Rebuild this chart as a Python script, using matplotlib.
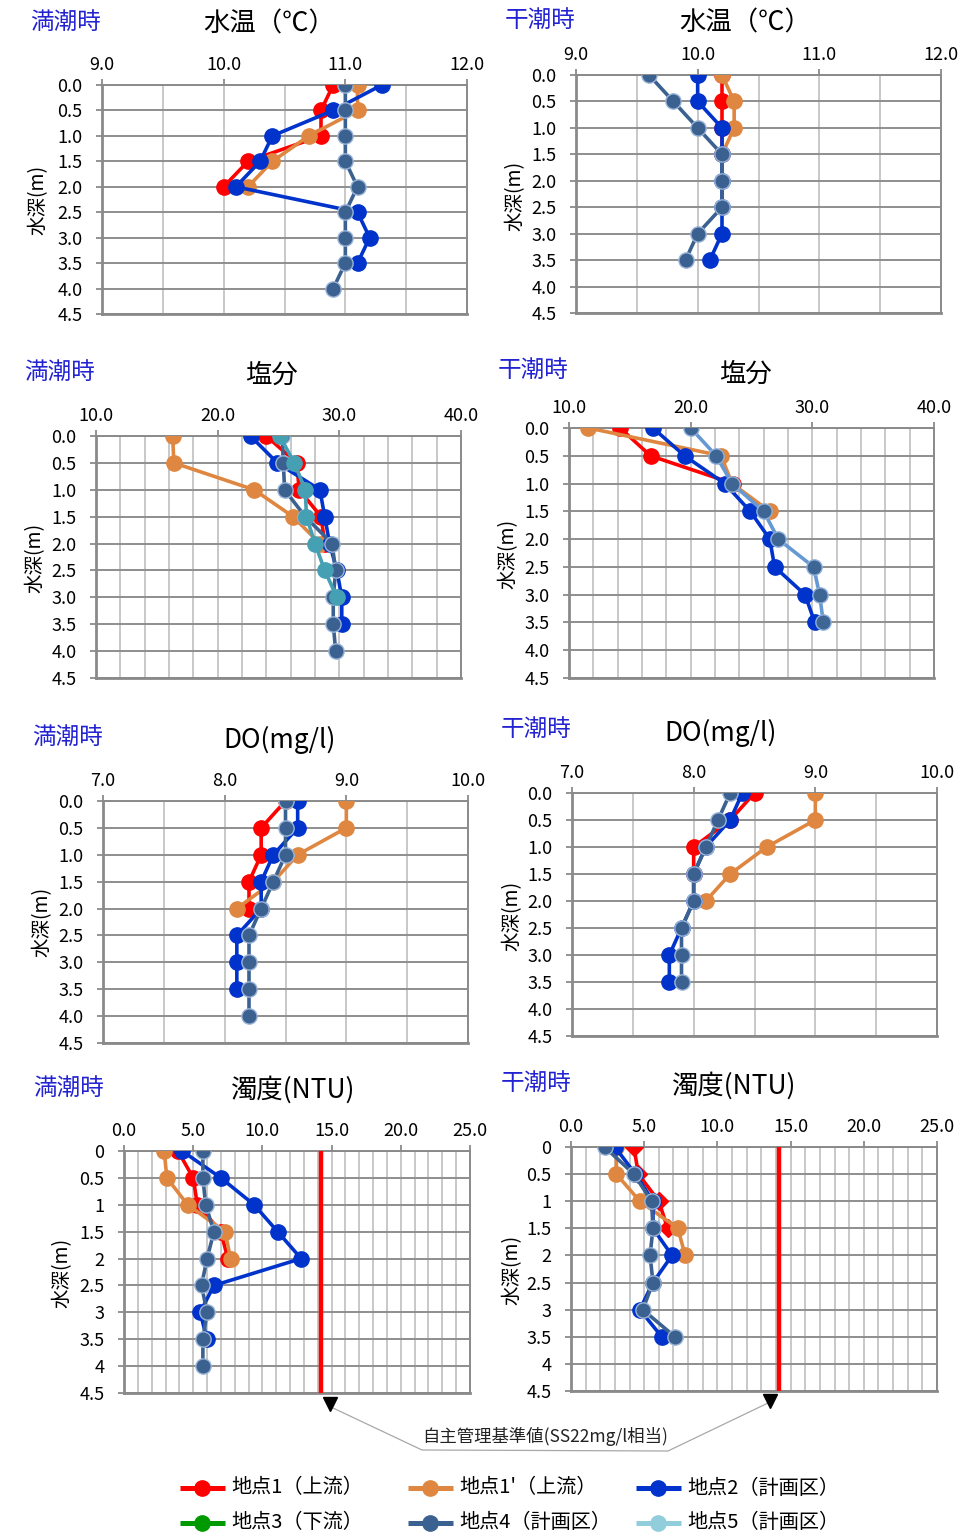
import matplotlib
matplotlib.use("Agg")
import matplotlib.pyplot as plt
from matplotlib.ticker import MultipleLocator, FormatStrFormatter, FuncFormatter

plt.rcParams['font.family'] = ['Noto Sans CJK JP', 'DejaVu Sans']

W, H = 976, 1534

# ---- data ----
depth = [0.0, 0.5, 1.0, 1.5, 2.0, 2.5, 3.0, 3.5, 4.0]

# 満潮時 水温
hw_t1 = [10.9, 10.8, 10.8, 10.2, 10.0]
hw_t1p = [11.1, 11.1, 10.7, 10.4, 10.2]
hw_t2 = [11.3, 10.9, 10.4, 10.3, 10.1, 11.1, 11.2, 11.1]
hw_t4 = [11.0, 11.0, 11.0, 11.0, 11.1, 11.0, 11.0, 11.0, 10.9]
# 干潮時 水温
lw_t1 = [10.2, 10.2, 10.2, 10.2]
lw_t1p = [10.2, 10.3, 10.3, 10.2]
lw_t2 = [10.0, 10.0, 10.2, 10.2, 10.2, 10.2, 10.2, 10.1]
lw_t4 = [9.6, 9.8, 10.0, 10.2, 10.2, 10.2, 10.0, 9.9]

# 満潮時 塩分
hw_s1 = [24.0, 26.5, 26.7, 28.5, 28.8]
hw_s1p = [16.3, 16.4, 23.0, 26.2, 28.4]
hw_s2 = [22.7, 24.9, 28.4, 28.8, 29.2, 29.8, 30.2, 30.2]
hw_s4 = [25.3, 25.4, 25.5, 27.2, 29.4, 29.7, 29.5, 29.5, 29.7]
hw_s5 = [25.1, 26.3, 27.2, 27.3, 28.0, 28.8, 29.8]
# 干潮時 塩分
lw_s1 = [14.2, 16.7, 23.5]
lw_s1p = [11.6, 22.5, 23.4, 26.5]
lw_s2 = [16.9, 19.5, 22.8, 24.9, 26.5, 26.9, 29.4, 30.2]
lw_s4 = [20.0, 22.1, 23.4, 26.0, 27.2, 30.1, 30.6, 30.9]

# 満潮時 DO
hw_d1 = [8.5, 8.3, 8.3, 8.2, 8.2]
hw_d1p = [9.0, 9.0, 8.6, 8.4, 8.1]
hw_d2 = [8.6, 8.6, 8.4, 8.3, 8.3, 8.1, 8.1, 8.1]
hw_d4 = [8.5, 8.5, 8.5, 8.4, 8.3, 8.2, 8.2, 8.2, 8.2]
# 干潮時 DO
lw_d1 = [8.5, 8.3, 8.0, 8.0]
lw_d1p = [9.0, 9.0, 8.6, 8.3, 8.1]
lw_d2 = [8.4, 8.3, 8.1, 8.0, 8.0, 7.9, 7.8, 7.8]
lw_d4 = [8.3, 8.2, 8.1, 8.0, 8.0, 7.9, 7.9, 7.9]

# 満潮時 濁度
hw_n1 = [3.9, 5.0, 5.3, 7.0, 7.5]
hw_n1p = [2.9, 3.1, 4.6, 7.3, 7.7]
hw_n2 = [4.2, 7.0, 9.4, 11.1, 12.8, 6.5, 5.5, 6.0]
hw_n4 = [5.7, 5.7, 5.9, 6.5, 6.0, 5.6, 6.0, 5.7, 5.7]
# 干潮時 濁度
lw_n1 = [4.3, 4.6, 6.0, 6.6]
lw_n1p = [3.1, 3.1, 4.7, 7.3, 7.8]
lw_n2 = [3.0, 4.4, 5.6, 5.6, 6.9, 5.6, 4.7, 6.2]
lw_n4 = [2.3, 4.3, 5.5, 5.6, 5.4, 5.6, 4.9, 7.1]

ntu_limit = 14.2   # 自主管理基準値 (SS22mg/l相当)

legend_labels = ['地点1（上流）', "地点1'（上流）", '地点2（計画区）',
                 '地点3（下流）', '地点4（計画区）', '地点5（計画区）']

# ---- styles ----
RED = '#FF0000'
ORANGE = '#DF8740'
BLUE = '#0033CC'
GREEN = '#009A00'
SLATE = '#3B6190'
LIGHT = '#92CDDC'
TIDE_BLUE = '#2323D2'

st = {
    'p1': dict(color=RED, mfc=RED, mec=RED, marker='o'),
    'p1d': dict(color=RED, mfc=RED, mec=RED, marker='D'),
    'p1p': dict(color=ORANGE, mfc=ORANGE, mec=ORANGE, marker='o'),
    'p2': dict(color=BLUE, mfc=BLUE, mec=BLUE, marker='o'),
    'p4': dict(color=SLATE, mfc=SLATE, mec='#9AB4D6', marker='o'),
    'p5t': dict(color='#46A0B4', mfc='#46A0B4', mec='#46A0B4', marker='o'),
    'p4l': dict(color='#6699D4', mfc='#3E6694', mec='#8FB0DA', marker='o'),
}

panels = [
    dict(box=(102, 85, 467, 314), tide='満潮時', tide_xy=(30, 22), title='水温（℃）', title_xy=(269, 24),
         ylab_xy=(38, 200), xlim=(9, 12), major=1, minor=0.5, yfmt='%.1f',
         series=[(hw_t1, 'p1'), (hw_t1p, 'p1p'), (hw_t2, 'p2'), (hw_t4, 'p4')]),
    dict(box=(576, 75, 941, 313), tide='干潮時', tide_xy=(505, 20), title='水温（℃）', title_xy=(745, 23),
         ylab_xy=(515, 196), xlim=(9, 12), major=1, minor=0.5, yfmt='%.1f',
         series=[(lw_t1, 'p1'), (lw_t1p, 'p1p'), (lw_t2, 'p2'), (lw_t4, 'p4')]),
    dict(box=(96, 436, 461, 678), tide='満潮時', tide_xy=(24, 372), title='塩分', title_xy=(271, 375),
         ylab_xy=(35, 558), xlim=(10, 40), major=10, minor=2, yfmt='%.1f',
         series=[(hw_s1, 'p1'), (hw_s1p, 'p1p'), (hw_s2, 'p2'), (hw_s4, 'p4'), (hw_s5, 'p5t')]),
    dict(box=(569, 428, 934, 678), tide='干潮時', tide_xy=(498, 370), title='塩分', title_xy=(745, 374),
         ylab_xy=(508, 554), xlim=(10, 40), major=10, minor=2, yfmt='%.1f',
         series=[(lw_s1, 'p1'), (lw_s1p, 'p1p'), (lw_s2, 'p2'), (lw_s4, 'p4l')]),
    dict(box=(103, 801, 468, 1043), tide='満潮時', tide_xy=(32, 737), title='DO(mg/l)', title_xy=(280, 740),
         ylab_xy=(42, 922), xlim=(7, 10), major=1, minor=0.5, yfmt='%.1f',
         series=[(hw_d1, 'p1'), (hw_d1p, 'p1p'), (hw_d2, 'p2'), (hw_d4, 'p4')]),
    dict(box=(572, 793, 937, 1036), tide='干潮時', tide_xy=(501, 729), title='DO(mg/l)', title_xy=(721, 733),
         ylab_xy=(512, 916), xlim=(7, 10), major=1, minor=0.5, yfmt='%.1f',
         series=[(lw_d1, 'p1'), (lw_d1p, 'p1p'), (lw_d2, 'p2'), (lw_d4, 'p4')]),
    dict(box=(124, 1151, 470, 1393), tide='満潮時', tide_xy=(33, 1088), title='濁度(NTU)', title_xy=(293, 1090),
         ylab_xy=(62, 1273), xlim=(0, 25), major=5, minor=1, yfmt='g', limit=ntu_limit,
         series=[(hw_n1, 'p1'), (hw_n1p, 'p1p'), (hw_n2, 'p2'), (hw_n4, 'p4')]),
    dict(box=(571, 1147, 937, 1391), tide='干潮時', tide_xy=(501, 1083), title='濁度(NTU)', title_xy=(734, 1086),
         ylab_xy=(512, 1270), xlim=(0, 25), major=5, minor=1, yfmt='g', limit=ntu_limit,
         series=[(lw_n1, 'p1d'), (lw_n1p, 'p1p'), (lw_n2, 'p2'), (lw_n4, 'p4')]),
]

fig = plt.figure(figsize=(W / 100, H / 100), dpi=100)


def fx(x):
    return x / W


def fy(y):
    return 1 - y / H


for p in panels:
    l, t, r, b = p['box']
    ax = fig.add_axes([fx(l), fy(b), (r - l) / W, (b - t) / H])
    ax.set_xlim(*p['xlim'])
    ax.set_ylim(4.5, 0)
    ax.xaxis.tick_top()
    ax.xaxis.set_major_locator(MultipleLocator(p['major']))
    ax.xaxis.set_minor_locator(MultipleLocator(p['minor']))
    ax.xaxis.set_major_formatter(FormatStrFormatter('%.1f'))
    ax.yaxis.set_major_locator(MultipleLocator(0.5))
    if p['yfmt'] == 'g':
        ax.yaxis.set_major_formatter(FuncFormatter(lambda v, pos: f'{v:g}'))
    else:
        ax.yaxis.set_major_formatter(FormatStrFormatter(p['yfmt']))
    ax.tick_params(axis='x', which='major', direction='out', length=4, width=1.2,
                   color='#808080', pad=4, labelsize=13)
    ax.tick_params(axis='x', which='minor', length=0)
    ax.tick_params(axis='y', which='major', direction='out', length=4, width=1.2,
                   color='#808080', pad=10, labelsize=13)
    ax.grid(axis='x', which='both', color='#C4C4C4', lw=1.3)
    ax.grid(axis='y', which='major', color='#8E8E8E', lw=1.4)
    ax.set_axisbelow(True)
    for side, sp in ax.spines.items():
        sp.set_color('#8A8A8A')
        sp.set_linewidth(1.4 if side in ('top', 'right') else 2.0)

    for vals, key in p['series']:
        s = st[key]
        ms = 9 if s['marker'] == 'D' else 11
        ax.plot(vals, depth[:len(vals)], color=s['color'], lw=2.6, marker=s['marker'],
                ms=ms, mfc=s['mfc'], mec=s['mec'], mew=1.0, zorder=3)

    if 'limit' in p:
        ax.axvline(p['limit'], color=RED, lw=3.2, zorder=4)

    fig.text(fx(p['tide_xy'][0]), fy(p['tide_xy'][1]), p['tide'], color=TIDE_BLUE,
             fontsize=17, ha='left', va='center')
    fig.text(fx(p['title_xy'][0]), fy(p['title_xy'][1]), p['title'],
             fontsize=19, ha='center', va='center')
    fig.text(fx(p['ylab_xy'][0]), fy(p['ylab_xy'][1]), '水深(m)', fontsize=14,
             rotation=90, ha='center', va='center')

# overlay in pixel coordinates for the callout and the legend
ov = fig.add_axes([0, 0, 1, 1])
ov.set_xlim(0, W)
ov.set_ylim(H, 0)
ov.axis('off')
ov.patch.set_alpha(0)

ov.plot([333, 422, 668, 768], [1408, 1450, 1451, 1403], color='#A8A8A8', lw=0.9)
ov.plot([330, 770], [1404, 1401], ls='none', marker='v', ms=10, color='black')
ov.text(545, 1436, '自主管理基準値(SS22mg/l相当)', fontsize=12.5, ha='center', va='center',
        color='#222222')

leg_styles = [RED, ORANGE, BLUE, GREEN, SLATE, LIGHT]
leg_x = [180, 408, 636]
leg_y = [1488, 1523]
for i, (lab, col) in enumerate(zip(legend_labels, leg_styles)):
    x0 = leg_x[i % 3]
    y0 = leg_y[i // 3]
    ov.plot([x0, x0 + 45], [y0, y0], color=col, lw=3.6, solid_capstyle='butt')
    ov.plot([x0 + 22], [y0], marker='o', ms=11, color=col)
    ov.text(x0 + 51, y0, lab, fontsize=14.5, ha='left', va='center')

fig.savefig('out.png', dpi=100)
